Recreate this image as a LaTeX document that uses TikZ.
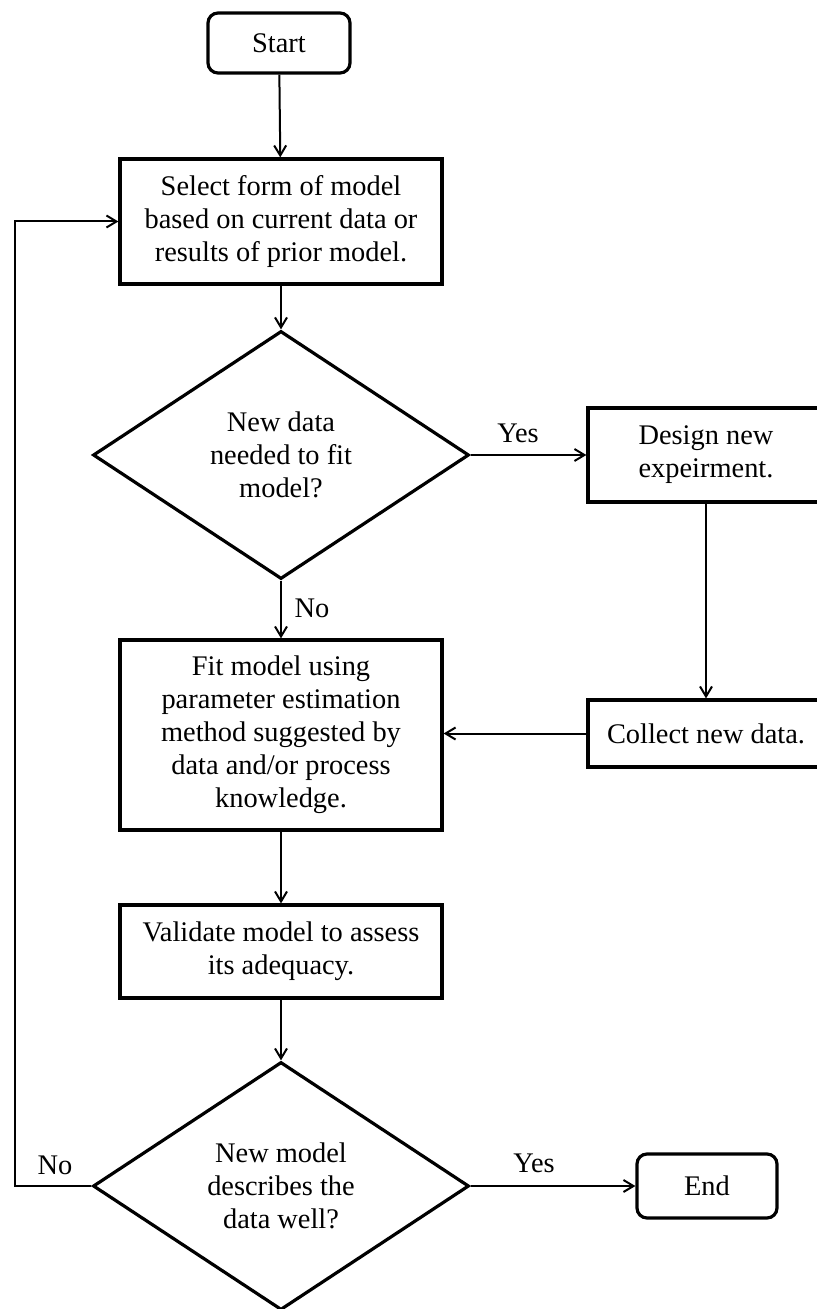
\documentclass[tikz,border=0pt]{standalone}
\usepackage{fontspec}
\setmainfont{Liberation Serif}
\usetikzlibrary{shapes.geometric,arrows.meta}
\begin{document}
\begin{tikzpicture}[x=0.5pt,y=-0.5pt,
  every node/.style={font=\fontsize{14.2}{16.5}\selectfont, align=center, inner sep=0pt},
  proc/.style={draw, line width=1.6pt, rectangle, minimum width=161pt},
  term/.style={draw, line width=1.6pt, rectangle, rounded corners=5pt},
  dec/.style={draw, line width=1.6pt, diamond, aspect=1.516, minimum width=188pt, minimum height=124pt},
  conn/.style={line width=1pt, -{Straight Barb[length=5pt,width=6pt]}},
  lbl/.style={}
]
\useasboundingbox (0,0) rectangle (817,1309);
\clip (0,0) rectangle (817,1309);

\node[term, minimum width=71pt, minimum height=30pt] (start) at (279,43) {Start};
\node[proc, minimum height=62.5pt] (select) at (281,221.5) {Select form of model\\based on current data or\\results of prior model.};
\node[dec] (d1) at (281,455) {New data\\needed to fit\\model?};
\node[proc, minimum width=118pt, minimum height=47pt] (design) at (706,455) {Design new\\expeirment.};
\node[proc, minimum width=118pt, minimum height=33.5pt] (collect) at (706,733.5) {Collect new data.};
\node[proc, minimum height=95pt] (fit) at (281,735) {Fit model using\\parameter estimation\\method suggested by\\data and/or process\\knowledge.};
\node[proc, minimum height=46.5pt] (valid) at (281,951.5) {Validate model to assess\\its adequacy.};
\node[dec] (d2) at (281,1186) {New model\\describes the\\data well?};
\node[term, minimum width=70pt, minimum height=32pt] (end) at (707,1186) {End};

\node[lbl] (yes1) at (518,433) {Yes};
\node[lbl] (no1) at (312,608) {No};
\node[lbl] (yes2) at (534,1163) {Yes};
\node[lbl] (no2) at (55,1165) {No};

\coordinate (fb) at (15,1186);

\draw[conn] (start) -- (select);
\draw[conn] (select) -- (d1);
\draw[conn] (d1.east) -- (design.west);
\draw[conn] (design) -- (collect);
\draw[conn] (collect.west) -- (collect.west -| fit.east);
\draw[conn] (d1.south) -- (fit.north);
\draw[conn] (fit) -- (valid);
\draw[conn] (valid) -- (d2);
\draw[conn] (d2.east) -- (end.west);
\draw[conn] (d2.west) -- (fb) |- (select.west);
\end{tikzpicture}
\end{document}
